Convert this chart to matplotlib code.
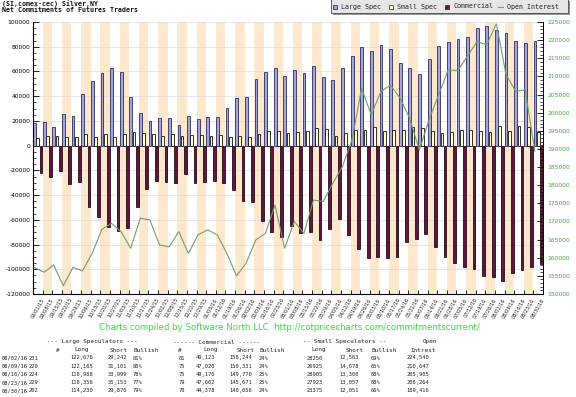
import numpy as np
import matplotlib
matplotlib.use("Agg")
import matplotlib.pyplot as plt
from matplotlib import ticker
from matplotlib.patches import Rectangle

dates = ['09/01/15', '09/08/15', '09/15/15', '09/22/15', '09/29/15', '10/06/15', '10/13/15',
         '10/20/15', '10/27/15', '11/03/15', '11/10/15', '11/17/15', '11/24/15', '12/01/15',
         '12/08/15', '12/15/15', '12/22/15', '12/29/15', '01/05/16', '01/12/16', '01/19/16',
         '01/26/16', '02/02/16', '02/09/16', '02/16/16', '02/23/16', '03/01/16', '03/08/16',
         '03/15/16', '03/22/16', '03/29/16', '04/05/16', '04/12/16', '04/19/16', '04/26/16',
         '05/03/16', '05/10/16', '05/17/16', '05/24/16', '05/31/16', '06/07/16', '06/14/16',
         '06/21/16', '06/28/16', '07/05/16', '07/12/16', '07/19/16', '07/26/16', '08/02/16',
         '08/09/16', '08/16/16', '08/23/16', '08/30/16']

# net positions, thousands of contracts
large_spec = [18.0, 19.3, 14.8, 25.6, 23.7, 41.5, 52.5, 58.5, 62.8, 59.5, 39.6, 26.1, 19.9, 22.6,
              22.1, 16.4, 24.2, 21.5, 22.9, 23.4, 30.2, 38.3, 39.3, 53.9, 59.8, 62.5, 56.3, 61.2,
              59.0, 64.2, 55.5, 52.8, 63.0, 72.5, 79.8, 76.8, 81.4, 78.0, 66.5, 62.5, 57.9, 70.1,
              80.8, 84.0, 86.2, 88.0, 94.8, 96.6, 93.4, 91.1, 85.0, 83.2, 84.4]
small_spec = [6.0, 7.5, 7.8, 6.8, 7.3, 9.5, 7.3, 9.7, 7.3, 9.1, 11.2, 10.4, 9.4, 8.1,
              9.8, 8.1, 8.3, 8.5, 7.8, 8.3, 7.3, 7.8, 7.3, 9.3, 11.8, 12.0, 10.4, 11.2,
              12.0, 14.4, 13.6, 8.1, 10.1, 12.8, 12.8, 14.7, 12.0, 12.7, 12.5, 15.0, 14.6, 11.8,
              10.0, 11.2, 12.9, 12.3, 11.5, 11.2, 15.7, 12.2, 15.6, 14.9, 11.3]
commercial = [-21.9, -25.1, -20.6, -31.1, -29.7, -49.4, -58.0, -66.1, -68.8, -66.9, -49.9, -35.4,
              -28.6, -29.7, -30.5, -23.2, -30.5, -29.2, -28.4, -30.0, -35.9, -44.5, -45.4, -61.0,
              -69.6, -73.7, -64.8, -70.4, -69.5, -76.4, -67.7, -59.4, -72.3, -83.9, -90.7, -89.9,
              -91.2, -89.9, -77.7, -75.6, -71.8, -81.8, -89.9, -94.7, -98.5, -100.1, -105.5,
              -106.6, -109.1, -103.3, -100.6, -98.1, -95.7]
open_interest = [157.3, 156.0, 158.0, 152.3, 157.3, 156.4, 161.2, 167.8, 169.5, 167.2, 162.6,
                 170.9, 170.4, 163.5, 163.0, 167.2, 161.2, 166.3, 167.7, 166.3, 161.2, 155.0,
                 158.5, 164.9, 166.7, 174.5, 162.6, 170.0, 166.7, 175.9, 175.5, 180.5, 185.1,
                 192.5, 206.7, 199.4, 205.8, 207.6, 204.0, 198.4, 189.7, 198.0, 204.9, 211.8,
                 211.6, 215.6, 219.6, 218.7, 224.5, 210.6, 205.9, 206.3, 189.4]

# report table
t_dates = ['08/02/16', '08/09/16', '08/16/16', '08/23/16', '08/30/16']
ls_num = ['231', '220', '224', '229', '202']
ls_long = ['122,676', '122,165', '118,988', '118,356', '114,230']
ls_short = ['29,242', '31,101', '33,999', '35,153', '29,876']
ls_bull = ['81%', '80%', '78%', '77%', '79%']
c_num = ['81', '75', '75', '79', '70']
c_long = ['49,123', '47,020', '49,176', '47,602', '44,378']
c_short = ['158,244', '150,331', '149,770', '145,671', '140,056']
c_bull = ['24%', '24%', '25%', '25%', '24%']
ss_long = ['28250', '26925', '28905', '27923', '23375']
ss_short = ['12,563', '14,678', '13,300', '13,057', '12,051']
ss_bull = ['69%', '65%', '68%', '68%', '66%']
t_oi = ['224,540', '210,647', '205,905', '206,264', '189,416']

W, H = 576, 397
LAV = '#a6a6d6'
CREAM = '#ffffd2'
MAROON = '#5b1a3d'
PEACH = '#fde8cd'
GREEN_LINE = '#6f9f6a'


def fx(x):
    return x / W


def fy(y):
    return 1 - y / H


fig = plt.figure(figsize=(W / 100, H / 100), dpi=100)
ax = fig.add_axes([fx(33), fy(294), 510 / W, 272 / H])

n = len(dates)
x = np.arange(n)
for i in range(1, n, 2):
    ax.axvspan(i, i + 1, color=PEACH, lw=0, zorder=0)

ax.bar(x + 0.02, np.array(large_spec) * 1000, width=0.29, align='edge',
       facecolor=LAV, edgecolor='#2c2c5c', lw=0.6, zorder=2)
ax.bar(x + 0.35, np.array(small_spec) * 1000, width=0.29, align='edge',
       facecolor=CREAM, edgecolor='#111111', lw=0.6, zorder=2)
ax.bar(x + 0.68, np.array(commercial) * 1000, width=0.29, align='edge',
       facecolor=MAROON, edgecolor='#2a0818', lw=0.6, zorder=2)

ax.set_xlim(0, n)
ax.set_ylim(-120000, 100000)
ax.yaxis.set_major_locator(ticker.MultipleLocator(20000))
ax.yaxis.set_minor_locator(ticker.MultipleLocator(5000))
ax.yaxis.set_major_formatter(ticker.FuncFormatter(lambda v, p: '%d' % v))
ax.set_xticks(np.arange(n + 1))
ax.set_xticklabels([])
ax.tick_params(axis='x', direction='in', length=3, width=0.6)
ax.tick_params(axis='y', which='major', direction='in', length=4, width=0.6,
               labelsize=4.3, pad=2, colors='black')
ax.tick_params(axis='y', which='minor', direction='in', length=2, width=0.5)
ax.grid(axis='y', color='#dcdcdc', lw=0.5)
ax.set_axisbelow(True)
ax.spines['top'].set_visible(False)
for s in ['left', 'bottom', 'right']:
    ax.spines[s].set_linewidth(0.6)

for i, d in enumerate(dates):
    ax.annotate(d, xy=(i + 1.0, 0), xycoords=('data', 'axes fraction'),
                xytext=(0, -3), textcoords='offset points', rotation=60,
                ha='right', va='center', rotation_mode='anchor', fontsize=3.6,
                color='#222222')

ax2 = ax.twinx()
ax2.plot(x + 0.15, np.array(open_interest) * 1000, color=GREEN_LINE, lw=0.8, zorder=3)
ax2.set_ylim(150000, 225000)
ax2.yaxis.set_major_locator(ticker.MultipleLocator(5000))
ax2.yaxis.set_minor_locator(ticker.MultipleLocator(1000))
ax2.yaxis.set_major_formatter(ticker.FuncFormatter(lambda v, p: '%d' % v))
ax2.tick_params(axis='y', which='major', direction='in', length=4, width=0.6,
                labelsize=4.3, pad=3, labelcolor='#3f9f3f')
ax2.tick_params(axis='y', which='minor', direction='in', length=2, width=0.5)
ax2.spines['top'].set_visible(False)
ax2.spines['right'].set_linewidth(0.6)

# title
fig.text(fx(2), fy(4), '(SI,comex-cec) Silver,NY', fontsize=4.8, fontweight='bold',
         family='DejaVu Sans Mono', ha='left', va='center', color='#111111')
fig.text(fx(2), fy(10.5), 'Net Commitments of Futures Traders', fontsize=4.8, fontweight='bold',
         family='DejaVu Sans Mono', ha='left', va='center', color='#111111')

# legend box
fig.patches.append(Rectangle((fx(333), fy(15)), 237 / W, 14 / H, transform=fig.transFigure,
                             facecolor='#9a9a9a', edgecolor='none', zorder=5))
fig.patches.append(Rectangle((fx(331), fy(13)), 237 / W, 14 / H, transform=fig.transFigure,
                             facecolor='#e6e6e6', edgecolor='#444444', lw=0.6, zorder=6))
for mx, fc in [(333, LAV), (389, CREAM), (445, MAROON)]:
    fig.patches.append(Rectangle((fx(mx), fy(8.5)), 4 / W, 4 / H, transform=fig.transFigure,
                                 facecolor=fc, edgecolor='#222222', lw=0.5, zorder=7))
fig.lines.append(plt.Line2D([fx(498), fx(503)], [fy(6.5), fy(6.5)], transform=fig.transFigure,
                            color=GREEN_LINE, lw=0.8, zorder=7))
for tx, lbl in [(341, 'Large Spec'), (397, 'Small Spec'), (453, 'Commercial'), (507, 'Open Interest')]:
    fig.text(fx(tx), fy(6.5), lbl, fontsize=4.8, family='DejaVu Sans Mono', ha='left',
             va='center', color='#222222', zorder=8)

# footer
fig.text(fx(289), fy(327), 'Charts compiled by Software North LLC  http://cotpricecharts.com/commitmentscurrent/',
         fontsize=6.2, color='#33dd33', ha='center', va='center')

head = dict(fontsize=4.3, family='DejaVu Sans Mono', color='#222222', va='center')
mono = dict(fontsize=3.9, family='DejaVu Sans Mono', color='#222222', va='center')
fig.text(fx(47), fy(342), '--- Large Speculators ---', ha='left', **head)
fig.text(fx(173), fy(342), '------ Commercial ------', ha='left', **head)
fig.text(fx(303), fy(342), '-- Small Speculators --', ha='left', **head)
fig.text(fx(423), fy(342), 'Open', ha='left', **head)
hdr = [(56, '#', 'left'), (88.5, 'Long', 'right'), (110, 'Short', 'left'), (133, 'Bullish', 'left'),
       (178.5, '#', 'left'), (203, 'Long', 'left'), (237, 'Short', 'left'), (259, 'Bullish', 'left'),
       (311, 'Long', 'left'), (346, 'Short', 'left'), (371, 'Bullish', 'left'), (410, 'Intrest', 'left')]
for hx, s, al in hdr:
    fig.text(fx(hx), fy(350), s, ha=al, **head)

cols = [(2, t_dates, 'left'), (29, ls_num, 'left'), (93, ls_long, 'right'), (127, ls_short, 'right'),
        (133, ls_bull, 'left'), (178.5, c_num, 'left'), (215, c_long, 'right'), (252, c_short, 'right'),
        (259, c_bull, 'left'), (323, ss_long, 'right'), (359, ss_short, 'right'), (371, ss_bull, 'left'),
        (429, t_oi, 'right')]
for r in range(len(t_dates)):
    ry = 358 + r * 8.2
    for cx, vals, al in cols:
        fig.text(fx(cx), fy(ry), vals[r], ha=al, **mono)

fig.savefig('out.png', dpi=100)
